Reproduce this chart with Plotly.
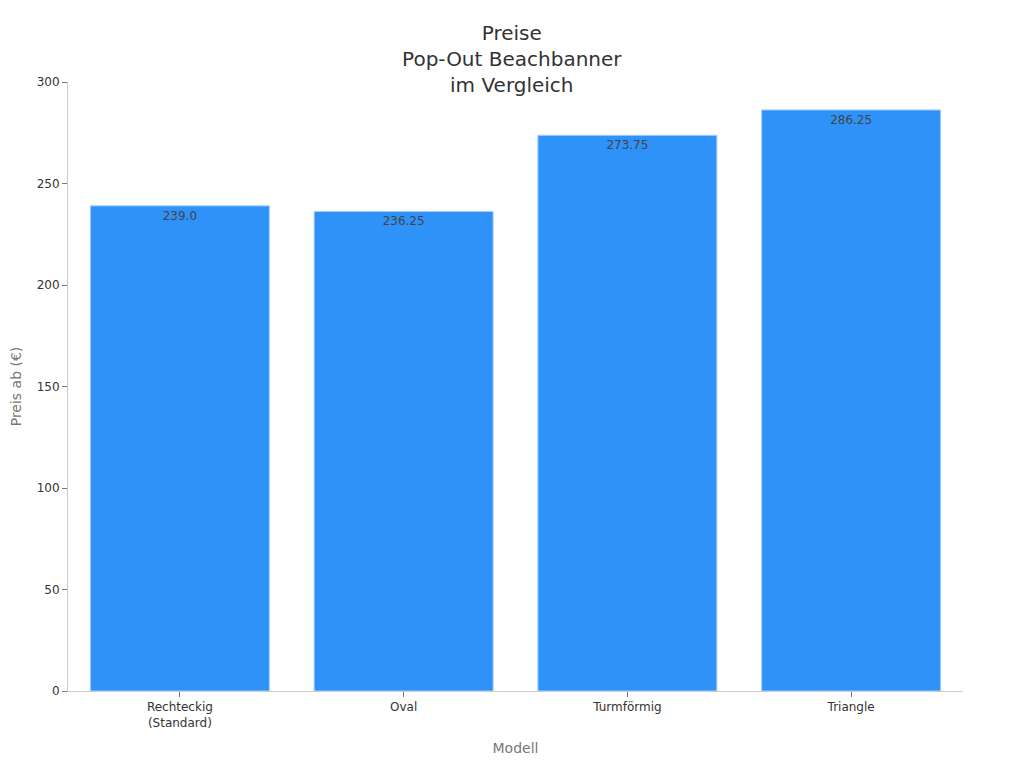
import plotly.graph_objects as go

categories = ["Rechteckig<br>(Standard)", "Oval", "Turmförmig", "Triangle"]
prices = [239.0, 236.25, 273.75, 286.25]
labels = ["239.0", "236.25", "273.75", "286.25"]

fig = go.Figure(go.Bar(
    x=categories, y=prices, text=labels, textposition="inside",
    insidetextanchor="end",
    textfont=dict(color="#444444", size=12),
    marker=dict(color="#2f92f8", line=dict(color="#a8d0fb", width=1)),
))

fig.update_layout(
    width=1024, height=768,
    font=dict(family="DejaVu Sans", color="#333333"),
    title=dict(text="Preise<br>Pop-Out Beachbanner<br>im Vergleich", x=0.492, xanchor="center",
               y=0.958, yanchor="top", font=dict(size=20, color="#333333")),
    margin=dict(l=60, r=69, t=74, b=85),
    plot_bgcolor="white", paper_bgcolor="white",
    bargap=0.2, showlegend=False,
)
fig.update_xaxes(title=dict(text="Modell", font=dict(size=14, color="#777777"), standoff=14),
                 showline=True, linecolor="#cccccc", ticks="outside", tickcolor="#777777",
                 ticklen=5, tickfont=dict(size=12, color="#333333"))
fig.update_yaxes(title=dict(text="Preis ab (€)", font=dict(size=14, color="#777777")),
                 automargin=False,
                 range=[0, 300], dtick=50, showline=True, linecolor="#cccccc", showgrid=False,
                 ticks="outside", tickcolor="#777777", ticklen=5, zeroline=False,
                 tickfont=dict(size=12, color="#333333"))

fig.write_html("out.html")
